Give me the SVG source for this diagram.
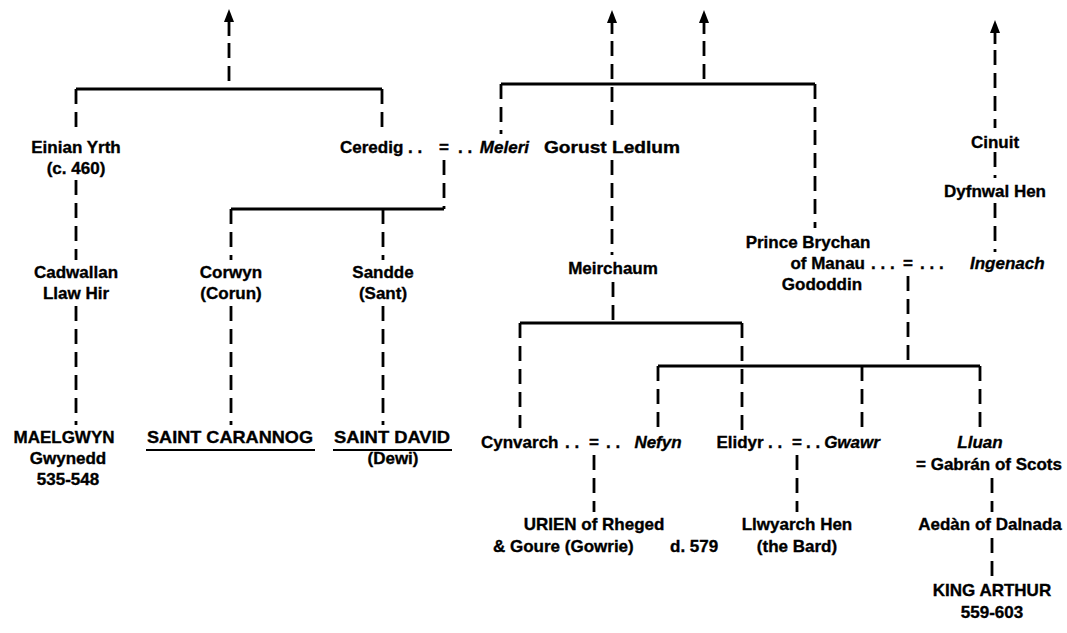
<svg xmlns="http://www.w3.org/2000/svg" width="1067" height="633" viewBox="0 0 1067 633">
<style>
text { font-family: "Liberation Sans", Arial, sans-serif; font-size: 17px; font-weight: bold; fill: #000; stroke: #000; stroke-width: 0.35; }
.c { text-anchor: middle; }
.e { text-anchor: end; }
.i { font-style: italic; }
.solid { fill: none; stroke: #000; stroke-width: 2.8; }
.dash { fill: none; stroke: #000; stroke-width: 2.8; stroke-dasharray: 15 8; }
.ul { fill: none; stroke: #000; stroke-width: 2.2; }
</style>
<defs>
<path id="ah" d="M0,0 L5,13 L-5,13 Z" fill="#000"/>
</defs>
<rect width="1067" height="633" fill="#fff"/>
<g id="connectors">
  <use href="#ah" x="229" y="9"/>
  <path class="solid" d="M229,21 V36"/>
  <path class="dash" d="M229,43 V89"/>
  <path class="solid" d="M76,89 H382"/>
  <path class="dash" d="M76,89 V135"/>
  <path class="dash" d="M382,89 V135"/>
  <path class="dash" d="M76,180 V260"/>
  <path class="dash" d="M76,306 V425"/>
  <path class="dash" d="M444,160 V209"/>
  <path class="solid" d="M444,209 H231"/>
  <path class="dash" d="M231,209 V260"/>
  <path class="dash" d="M383,209 V260"/>
  <path class="dash" d="M231,306 V425"/>
  <path class="dash" d="M383,306 V425"/>

  <use href="#ah" x="612" y="10"/>
  <path class="solid" d="M612,22 V34"/>
  <path class="dash" d="M612,41 V133"/>
  <use href="#ah" x="704" y="10"/>
  <path class="solid" d="M704,22 V34"/>
  <path class="dash" d="M704,41 V84"/>
  <path class="solid" d="M501,84 H815"/>
  <path class="dash" d="M501,84 V134"/>
  <path class="dash" d="M815,84 V228"/>
  <path class="dash" d="M612,160 V255"/>
  <path class="dash" d="M613,282 V323"/>
  <path class="solid" d="M520,323 H742"/>
  <path class="dash" d="M520,323 V428"/>
  <path class="dash" d="M742,323 V430"/>
  <path class="dash" d="M908,276 V366"/>
  <path class="solid" d="M658,366 H980"/>
  <path class="dash" d="M658,366 V428"/>
  <path class="dash" d="M862,366 V428"/>
  <path class="dash" d="M980,366 V428"/>
  <path class="dash" d="M594,455 V512"/>
  <path class="dash" d="M797,455 V512"/>
  <path class="dash" d="M992,478 V512"/>
  <path class="dash" d="M992,538 V578"/>

  <use href="#ah" x="995" y="20"/>
  <path class="solid" d="M995,32 V44"/>
  <path class="dash" d="M995,50 V128"/>
  <path class="dash" d="M995,152 V178"/>
  <path class="dash" d="M995,203 V252"/>
</g>

<g id="einian"><text class="c" x="76" y="153">Einian Yrth</text><text class="c" x="76" y="174">(c. 460)</text></g>
<g id="ceredig-meleri">
  <text x="340" y="153">Ceredig</text>
  <text x="408" y="153">. .</text>
  <text class="c" x="444" y="153">=</text>
  <text x="458" y="153">. .</text>
  <text class="e i" x="529" y="153">Meleri</text>
</g>
<g id="gorust"><text class="c" x="612" y="153" textLength="136" lengthAdjust="spacingAndGlyphs">Gorust Ledlum</text></g>
<g id="cinuit"><text class="c" x="995" y="148">Cinuit</text></g>
<g id="dyfnwal"><text class="c" x="995" y="197">Dyfnwal Hen</text></g>
<g id="cadwallan"><text class="c" x="76" y="278">Cadwallan</text><text class="c" x="76" y="299">Llaw Hir</text></g>
<g id="corwyn"><text class="c" x="231" y="278">Corwyn</text><text class="c" x="231" y="299">(Corun)</text></g>
<g id="sandde"><text class="c" x="383" y="278">Sandde</text><text class="c" x="383" y="299">(Sant)</text></g>
<g id="meirchaum"><text class="c" x="613" y="274">Meirchaum</text></g>
<g id="brychan-ingenach">
  <text class="c" x="808" y="248">Prince Brychan</text>
  <text class="e" x="865" y="269">of Manau</text>
  <text x="871" y="269">. . .</text>
  <text class="c" x="908" y="269">=</text>
  <text x="920" y="269">. . .</text>
  <text class="i" x="970" y="269">Ingenach</text>
  <text class="c" x="822" y="290">Gododdin</text>
</g>
<g id="maelgwyn"><text class="c" x="64" y="443">MAELGWYN</text><text class="c" x="68" y="464">Gwynedd</text><text class="c" x="68" y="485">535-548</text></g>
<g id="carannog"><text class="c" x="230" y="443" textLength="166" lengthAdjust="spacingAndGlyphs">SAINT CARANNOG</text><path class="ul" d="M146,450 H315"/></g>
<g id="david"><text class="c" x="392" y="443" textLength="116" lengthAdjust="spacingAndGlyphs">SAINT DAVID</text><path class="ul" d="M333,450 H452"/><text class="c" x="393" y="464">(Dewi)</text></g>
<g id="cynvarch-nefyn">
  <text x="481" y="448">Cynvarch</text>
  <text x="565" y="448">. .</text>
  <text class="c" x="594" y="448">=</text>
  <text x="606" y="448">. .</text>
  <text class="c i" x="658" y="448">Nefyn</text>
</g>
<g id="elidyr-gwawr">
  <text class="c" x="740" y="448">Elidyr</text>
  <text x="768" y="448">. .</text>
  <text class="c" x="797" y="448">=</text>
  <text x="806" y="448">. .</text>
  <text class="c i" x="852" y="448">Gwawr</text>
</g>
<g id="lluan"><text class="c i" x="980" y="448">Lluan</text><text class="c" x="989" y="470">= Gabrán of Scots</text></g>
<g id="urien"><text class="c" x="594" y="530">URIEN of Rheged</text><text x="493" y="552">&amp; Goure (Gowrie)</text><text x="670" y="552">d. 579</text></g>
<g id="llwyarch"><text class="c" x="797" y="530">Llwyarch Hen</text><text class="c" x="797" y="552">(the Bard)</text></g>
<g id="aedan"><text class="c" x="990" y="530">Aedàn of Dalnada</text></g>
<g id="arthur"><text class="c" x="992" y="596">KING ARTHUR</text><text class="c" x="992" y="618">559-603</text></g>
</svg>
